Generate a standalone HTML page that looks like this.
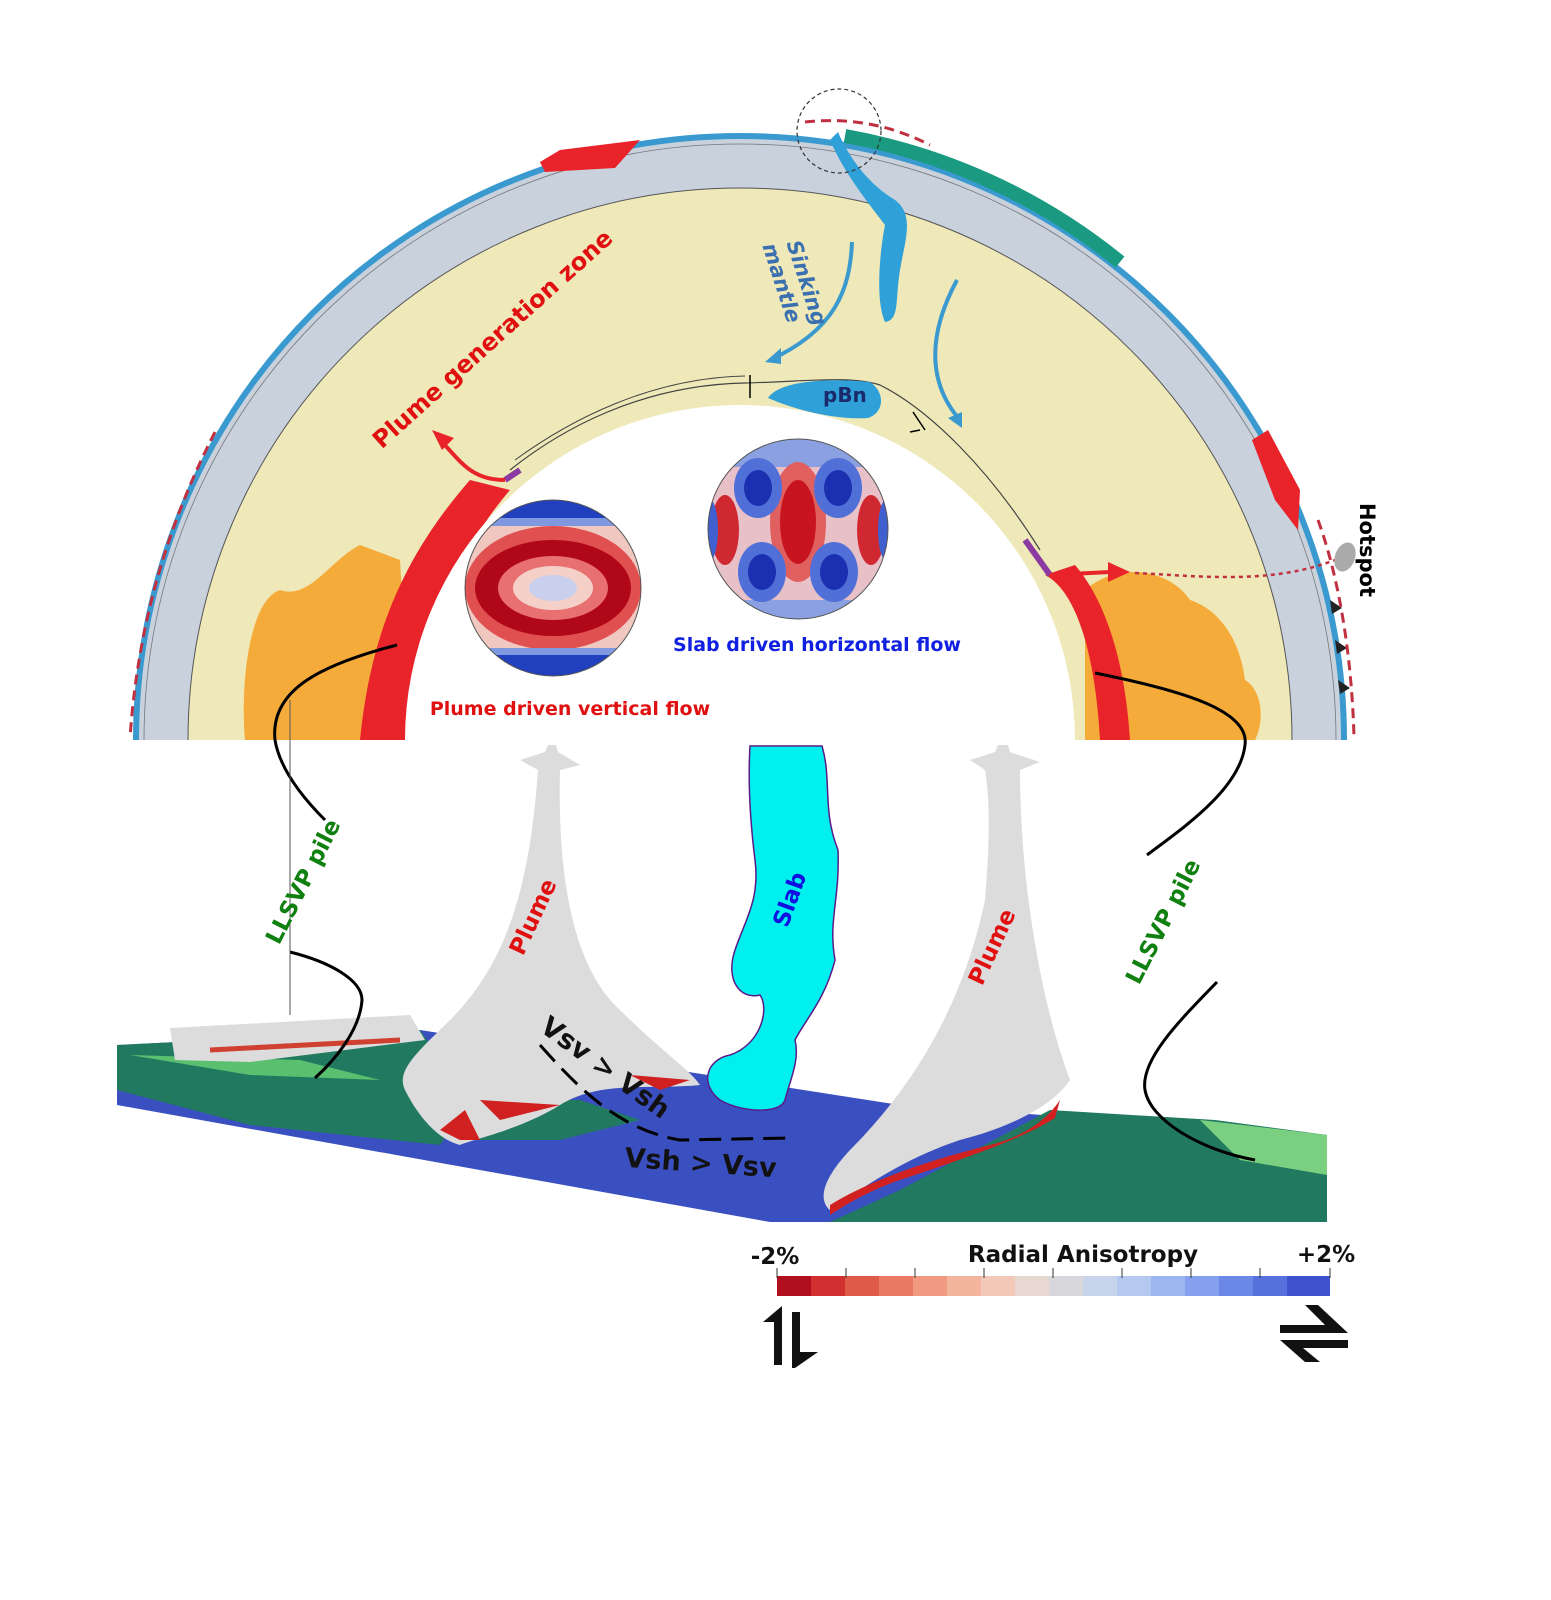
<!DOCTYPE html>
<html><head><meta charset="utf-8"><style>
html,body{margin:0;padding:0;background:#fff}
svg{display:block}
text{font-family:"DejaVu Sans","Liberation Sans",sans-serif;font-weight:bold}
</style></head><body>
<svg width="1551" height="1600" viewBox="0 0 1551 1600" xmlns="http://www.w3.org/2000/svg">
<defs>
<clipPath id="top"><rect x="0" y="0" width="1551" height="740"/></clipPath>
<clipPath id="c1"><circle cx="553" cy="588" r="88"/></clipPath>
<clipPath id="c2"><circle cx="798" cy="529" r="90"/></clipPath>
</defs>
<rect width="1551" height="1600" fill="#fff"/>
<g clip-path="url(#top)">
<circle cx="740" cy="740" r="604" fill="#c9d1dd" stroke="#3a9ad0" stroke-width="6"/>
<circle cx="740" cy="740" r="552" fill="#efe8b8" stroke="#555" stroke-width="1"/>
<circle cx="740" cy="740" r="596" fill="none" stroke="#777" stroke-width="0.8"/>
<path d="M245,740 C240,680 250,600 280,590 C310,600 330,560 360,545 L400,560 L410,740 Z" fill="#f5ab3a"/>
<path d="M1085,740 L1085,590 C1120,560 1170,570 1190,600 C1220,610 1240,640 1245,680 C1262,690 1265,720 1255,740 Z" fill="#f5ab3a"/>
<path d="M360,740 C370,640 400,560 470,480 L510,490 C450,560 420,650 412,740 Z" fill="#e8232a"/>
<path d="M1045,575 C1075,590 1095,650 1100,740 L1130,740 C1125,660 1105,600 1075,565 Z" fill="#e8232a"/>
<circle cx="740" cy="740" r="335" fill="#fff"/>
<path d="M510,470 C560,430 640,385 745,383 C800,382 850,375 880,385 C930,410 990,470 1040,550" fill="none" stroke="#444" stroke-width="1.2"/>
<path d="M515,460 C570,420 650,378 745,376" fill="none" stroke="#444" stroke-width="1"/>
<path d="M505,480 L520,470" stroke="#8a3aa0" stroke-width="6"/>
<path d="M1025,540 L1050,575" stroke="#8a3aa0" stroke-width="6"/>
<path d="M768,398 C780,380 830,378 870,382 C885,392 885,412 868,418 C840,420 800,412 768,398 Z" fill="#2fa0d8"/>
<text x="823" y="402" font-family="Liberation Serif,serif" font-size="20" fill="#1a2a6a">pBn</text>
<path d="M838,132 C850,160 870,185 895,200 C915,215 905,240 900,270 C895,300 900,320 885,322 C875,300 880,250 885,225 C870,205 845,175 830,140 Z" fill="#2fa0d8"/>
<path d="M845,136 A604,604 0 0 1 1120,262" fill="none" stroke="#1a9a80" stroke-width="14"/>
<path d="M540,162 L560,150 L640,140 L615,168 L545,172 Z" fill="#e8232a"/>
<path d="M1252,440 L1268,430 L1300,490 L1298,530 L1275,500 Z" fill="#e8232a"/>
<path d="M852,242 C850,290 835,330 770,360" fill="none" stroke="#3a9ad0" stroke-width="4"/>
<path d="M765,362 l16,-14 l0,16 Z" fill="#3a9ad0"/>
<path d="M957,280 C930,330 925,380 960,420" fill="none" stroke="#3a9ad0" stroke-width="4"/>
<path d="M962,428 l-14,-10 l14,-6 Z" fill="#3a9ad0"/>
<path d="M750,375 L750,398 M913,412 L925,430 M920,430 L910,432" stroke="#000" stroke-width="1.5"/>
<path d="M505,480 C470,480 460,460 440,440" fill="none" stroke="#e8232a" stroke-width="4"/>
<path d="M432,430 l22,8 l-12,12 Z" fill="#e8232a"/>
<path d="M1050,575 L1110,572" stroke="#e8232a" stroke-width="4"/>
<path d="M1130,572 l-22,-10 l0,20 Z" fill="#e8232a"/>
<path d="M1135,573 C1200,576 1270,585 1335,560" fill="none" stroke="#c03040" stroke-width="2.5" stroke-dasharray="4,4"/>
<ellipse cx="1345" cy="557" rx="10" ry="15" fill="#aaa" transform="rotate(20 1345 557)"/>
<path d="M1330,600 l12,8 l-10,6 Z M1335,640 l12,8 l-10,6 Z M1338,680 l12,8 l-10,6 Z" fill="#222"/>
</g>
<path d="M215,432 C170,520 138,620 130,738" fill="none" stroke="#c03040" stroke-width="3" stroke-dasharray="10,6"/>
<path d="M1318,520 C1340,580 1352,660 1354,738" fill="none" stroke="#c03040" stroke-width="3" stroke-dasharray="10,6"/>
<path d="M805,122 C860,116 900,130 930,145" fill="none" stroke="#c03040" stroke-width="3" stroke-dasharray="10,6"/>
<circle cx="839" cy="131" r="42" fill="none" stroke="#333" stroke-width="1.2" stroke-dasharray="4,3"/>
<!-- left stereonet -->
<g clip-path="url(#c1)">
<rect x="460" y="495" width="190" height="190" fill="#f0c8c0"/>
<ellipse cx="553" cy="588" rx="88" ry="62" fill="#e05050"/>
<ellipse cx="553" cy="588" rx="78" ry="48" fill="#b00818"/>
<ellipse cx="553" cy="588" rx="55" ry="32" fill="#e87070"/>
<ellipse cx="553" cy="588" rx="40" ry="22" fill="#f4d0c8"/>
<ellipse cx="553" cy="588" rx="24" ry="13" fill="#c8d0ee"/>
<rect x="460" y="495" width="190" height="28" fill="#2040c0"/>
<rect x="460" y="653" width="190" height="35" fill="#2040c0"/>
<rect x="460" y="518" width="190" height="8" fill="#8098e0"/>
<rect x="460" y="648" width="190" height="7" fill="#8098e0"/>
</g>
<circle cx="553" cy="588" r="88" fill="none" stroke="#555"/>
<!-- right stereonet -->
<g clip-path="url(#c2)">
<rect x="705" y="437" width="190" height="190" fill="#e8c0c8"/>
<rect x="705" y="437" width="190" height="30" fill="#8aa0e0"/>
<rect x="705" y="600" width="190" height="30" fill="#8aa0e0"/>
<ellipse cx="798" cy="522" rx="28" ry="60" fill="#e06060"/>
<ellipse cx="798" cy="522" rx="18" ry="42" fill="#c8141e"/>
<ellipse cx="758" cy="488" rx="24" ry="30" fill="#5070d8"/><ellipse cx="758" cy="488" rx="14" ry="18" fill="#1a30b0"/>
<ellipse cx="838" cy="488" rx="24" ry="30" fill="#5070d8"/><ellipse cx="838" cy="488" rx="14" ry="18" fill="#1a30b0"/>
<ellipse cx="762" cy="572" rx="24" ry="30" fill="#5070d8"/><ellipse cx="762" cy="572" rx="14" ry="18" fill="#1a30b0"/>
<ellipse cx="834" cy="572" rx="24" ry="30" fill="#5070d8"/><ellipse cx="834" cy="572" rx="14" ry="18" fill="#1a30b0"/>
<ellipse cx="725" cy="530" rx="14" ry="35" fill="#d02830"/><ellipse cx="871" cy="530" rx="14" ry="35" fill="#d02830"/>
<ellipse cx="710" cy="530" rx="8" ry="30" fill="#4060d0"/><ellipse cx="886" cy="530" rx="8" ry="30" fill="#4060d0"/>
</g>
<circle cx="798" cy="529" r="90" fill="none" stroke="#555"/>
<text x="817" y="651" font-size="19" fill="#1020e0" text-anchor="middle">Slab driven horizontal flow</text>
<text x="570" y="715" font-size="19" fill="#e01010" text-anchor="middle">Plume driven vertical flow</text>
<text transform="translate(498,345) rotate(-42)" font-size="24" fill="#e01010" text-anchor="middle">Plume generation zone</text>
<text transform="translate(800,285) rotate(72)" font-size="21" fill="#3a70b0" text-anchor="middle" font-style="italic">Sinking</text>
<text transform="translate(775,285) rotate(72)" font-size="21" fill="#3a70b0" text-anchor="middle" font-style="italic">mantle</text>
<text transform="translate(1360,550) rotate(90)" font-size="21" fill="#000" text-anchor="middle">Hotspot</text>
<path d="M117,1045 L420,1030 L900,1105 L1327,1135 L1327,1222 L770,1222 L117,1105 Z" fill="#3a4fc0"/>
<path d="M117,1045 L420,1030 L470,1100 L440,1145 L250,1125 L117,1090 Z" fill="#217a60"/>
<path d="M130,1055 L300,1060 L380,1080 L250,1075 Z" fill="#5ac070"/>
<path d="M830,1222 L900,1190 L1050,1110 L1215,1120 L1327,1135 L1327,1222 Z" fill="#217a60"/>
<path d="M1200,1120 L1327,1135 L1327,1175 L1240,1160 Z" fill="#7ad080"/>
<path d="M460,1100 L580,1100 L640,1120 L560,1140 L470,1140 Z" fill="#217a60"/>
<path d="M170,1028 L410,1015 L425,1040 L250,1062 L175,1060 Z" fill="#dcdcdc"/>
<path d="M210,1050 L400,1040" stroke="#d04030" stroke-width="5"/>
<path d="M520,760 L545,752 L548,745 L556,745 L558,752 L580,765 L560,770 C558,850 565,960 620,1010 C660,1050 690,1070 700,1085 C650,1090 600,1080 560,1105 C520,1130 470,1140 460,1145 C440,1140 420,1120 405,1090 C395,1070 420,1050 450,1020 C510,960 530,880 538,770 Z" fill="#dcdcdc"/>
<path d="M460,1140 L440,1130 L465,1110 L480,1140 Z M480,1100 L560,1105 L500,1120 Z M630,1075 L690,1080 L660,1090 Z" fill="#d02020"/>
<path d="M970,760 L995,752 L998,745 L1008,745 L1010,752 L1040,762 L1020,770 C1020,880 1040,1000 1070,1080 C1050,1110 1000,1130 960,1140 C900,1160 860,1190 830,1210 C818,1200 822,1180 850,1150 C900,1100 960,1020 985,900 C990,840 990,800 985,770 Z" fill="#dcdcdc"/>
<path d="M830,1205 C870,1180 930,1160 990,1145 C1030,1135 1050,1115 1060,1100 L1055,1118 C1020,1140 960,1160 900,1180 C870,1190 845,1205 830,1215 Z" fill="#d02020"/>
<path d="M750,746 L822,746 C832,780 822,810 838,850 C840,900 828,920 835,960 C825,1000 805,1020 795,1040 C800,1060 790,1080 785,1100 C780,1115 740,1112 720,1100 C700,1085 705,1060 730,1055 C760,1045 770,1010 760,995 C740,1000 725,980 735,950 C745,920 760,900 755,860 C750,820 748,780 750,746 Z" fill="#00f0f0" stroke="#5a1a8a" stroke-width="1.5"/>
<path d="M397,645 C320,665 270,690 275,740 C280,770 305,800 325,820" fill="none" stroke="#000" stroke-width="3"/>
<path d="M290,952 C330,962 362,980 362,1000 C360,1030 335,1060 315,1078" fill="none" stroke="#000" stroke-width="3"/>
<path d="M1095,673 C1180,690 1250,710 1245,745 C1240,790 1180,830 1147,855" fill="none" stroke="#000" stroke-width="3"/>
<path d="M1217,982 C1180,1020 1140,1060 1145,1090 C1150,1120 1200,1150 1255,1160" fill="none" stroke="#000" stroke-width="3"/>
<line x1="290" y1="700" x2="290" y2="1015" stroke="#555" stroke-width="1"/>
<path d="M540,1045 C580,1090 620,1130 680,1140 L790,1138" fill="none" stroke="#000" stroke-width="3" stroke-dasharray="22,10"/>
<text transform="translate(310,885) rotate(-63)" font-size="23" fill="#108010" text-anchor="middle">LLSVP pile</text>
<text transform="translate(1170,925) rotate(-63)" font-size="23" fill="#108010" text-anchor="middle">LLSVP pile</text>
<text transform="translate(540,920) rotate(-65)" font-size="23" fill="#e01010" text-anchor="middle">Plume</text>
<text transform="translate(999,950) rotate(-65)" font-size="23" fill="#e01010" text-anchor="middle">Plume</text>
<text transform="translate(797,902) rotate(-70)" font-size="23" fill="#1010e0" text-anchor="middle">Slab</text>
<text transform="translate(600,1075) rotate(36)" font-size="27" fill="#111" text-anchor="middle">Vsv &gt; Vsh</text>
<text x="700" y="1172" font-size="27" fill="#111" text-anchor="middle" transform="rotate(4 700 1172)">Vsh &gt; Vsv</text>
<g>
<rect x="777" y="1276" width="35" height="20" fill="#b0101e"/>
<rect x="811" y="1276" width="35" height="20" fill="#d03030"/>
<rect x="845" y="1276" width="35" height="20" fill="#e05a48"/>
<rect x="879" y="1276" width="35" height="20" fill="#ea7a65"/>
<rect x="913" y="1276" width="35" height="20" fill="#f09a82"/>
<rect x="947" y="1276" width="35" height="20" fill="#f3b59e"/>
<rect x="981" y="1276" width="35" height="20" fill="#f2c8b8"/>
<rect x="1015" y="1276" width="35" height="20" fill="#e8d8d2"/>
<rect x="1049" y="1276" width="35" height="20" fill="#d8d8dc"/>
<rect x="1083" y="1276" width="35" height="20" fill="#c8d4ec"/>
<rect x="1117" y="1276" width="35" height="20" fill="#b4c8f0"/>
<rect x="1151" y="1276" width="35" height="20" fill="#9cb6f2"/>
<rect x="1185" y="1276" width="35" height="20" fill="#84a0ee"/>
<rect x="1219" y="1276" width="35" height="20" fill="#6c88e6"/>
<rect x="1253" y="1276" width="35" height="20" fill="#5670dc"/>
<rect x="1287" y="1276" width="43" height="20" fill="#3d52cc"/>
<path d="M777,1268 v10 M846,1268 v10 M915,1268 v10 M984,1268 v10 M1053,1268 v10 M1122,1268 v10 M1191,1268 v10 M1260,1268 v10 M1330,1268 v10" stroke="#333" stroke-width="1"/>
</g>
<text x="775" y="1264" font-size="23" fill="#111" text-anchor="middle">-2%</text>
<text x="1083" y="1262" font-size="23" fill="#111" text-anchor="middle">Radial Anisotropy</text>
<text x="1326" y="1262" font-size="23" fill="#111" text-anchor="middle">+2%</text>
<path d="M763,1322 L782,1306 L782,1365 L774,1365 L774,1322 Z" fill="#111"/>
<path d="M792,1312 L800,1312 L800,1352 L818,1352 L795,1368 L792,1368 Z" fill="#111"/>
<path d="M1280,1325 L1325,1325 L1305,1305 L1318,1305 L1348,1333 L1280,1333 Z" fill="#111"/>
<path d="M1280,1340 L1348,1340 L1348,1348 L1303,1348 L1320,1362 L1305,1362 Z" fill="#111"/>
</svg>
</body></html>
